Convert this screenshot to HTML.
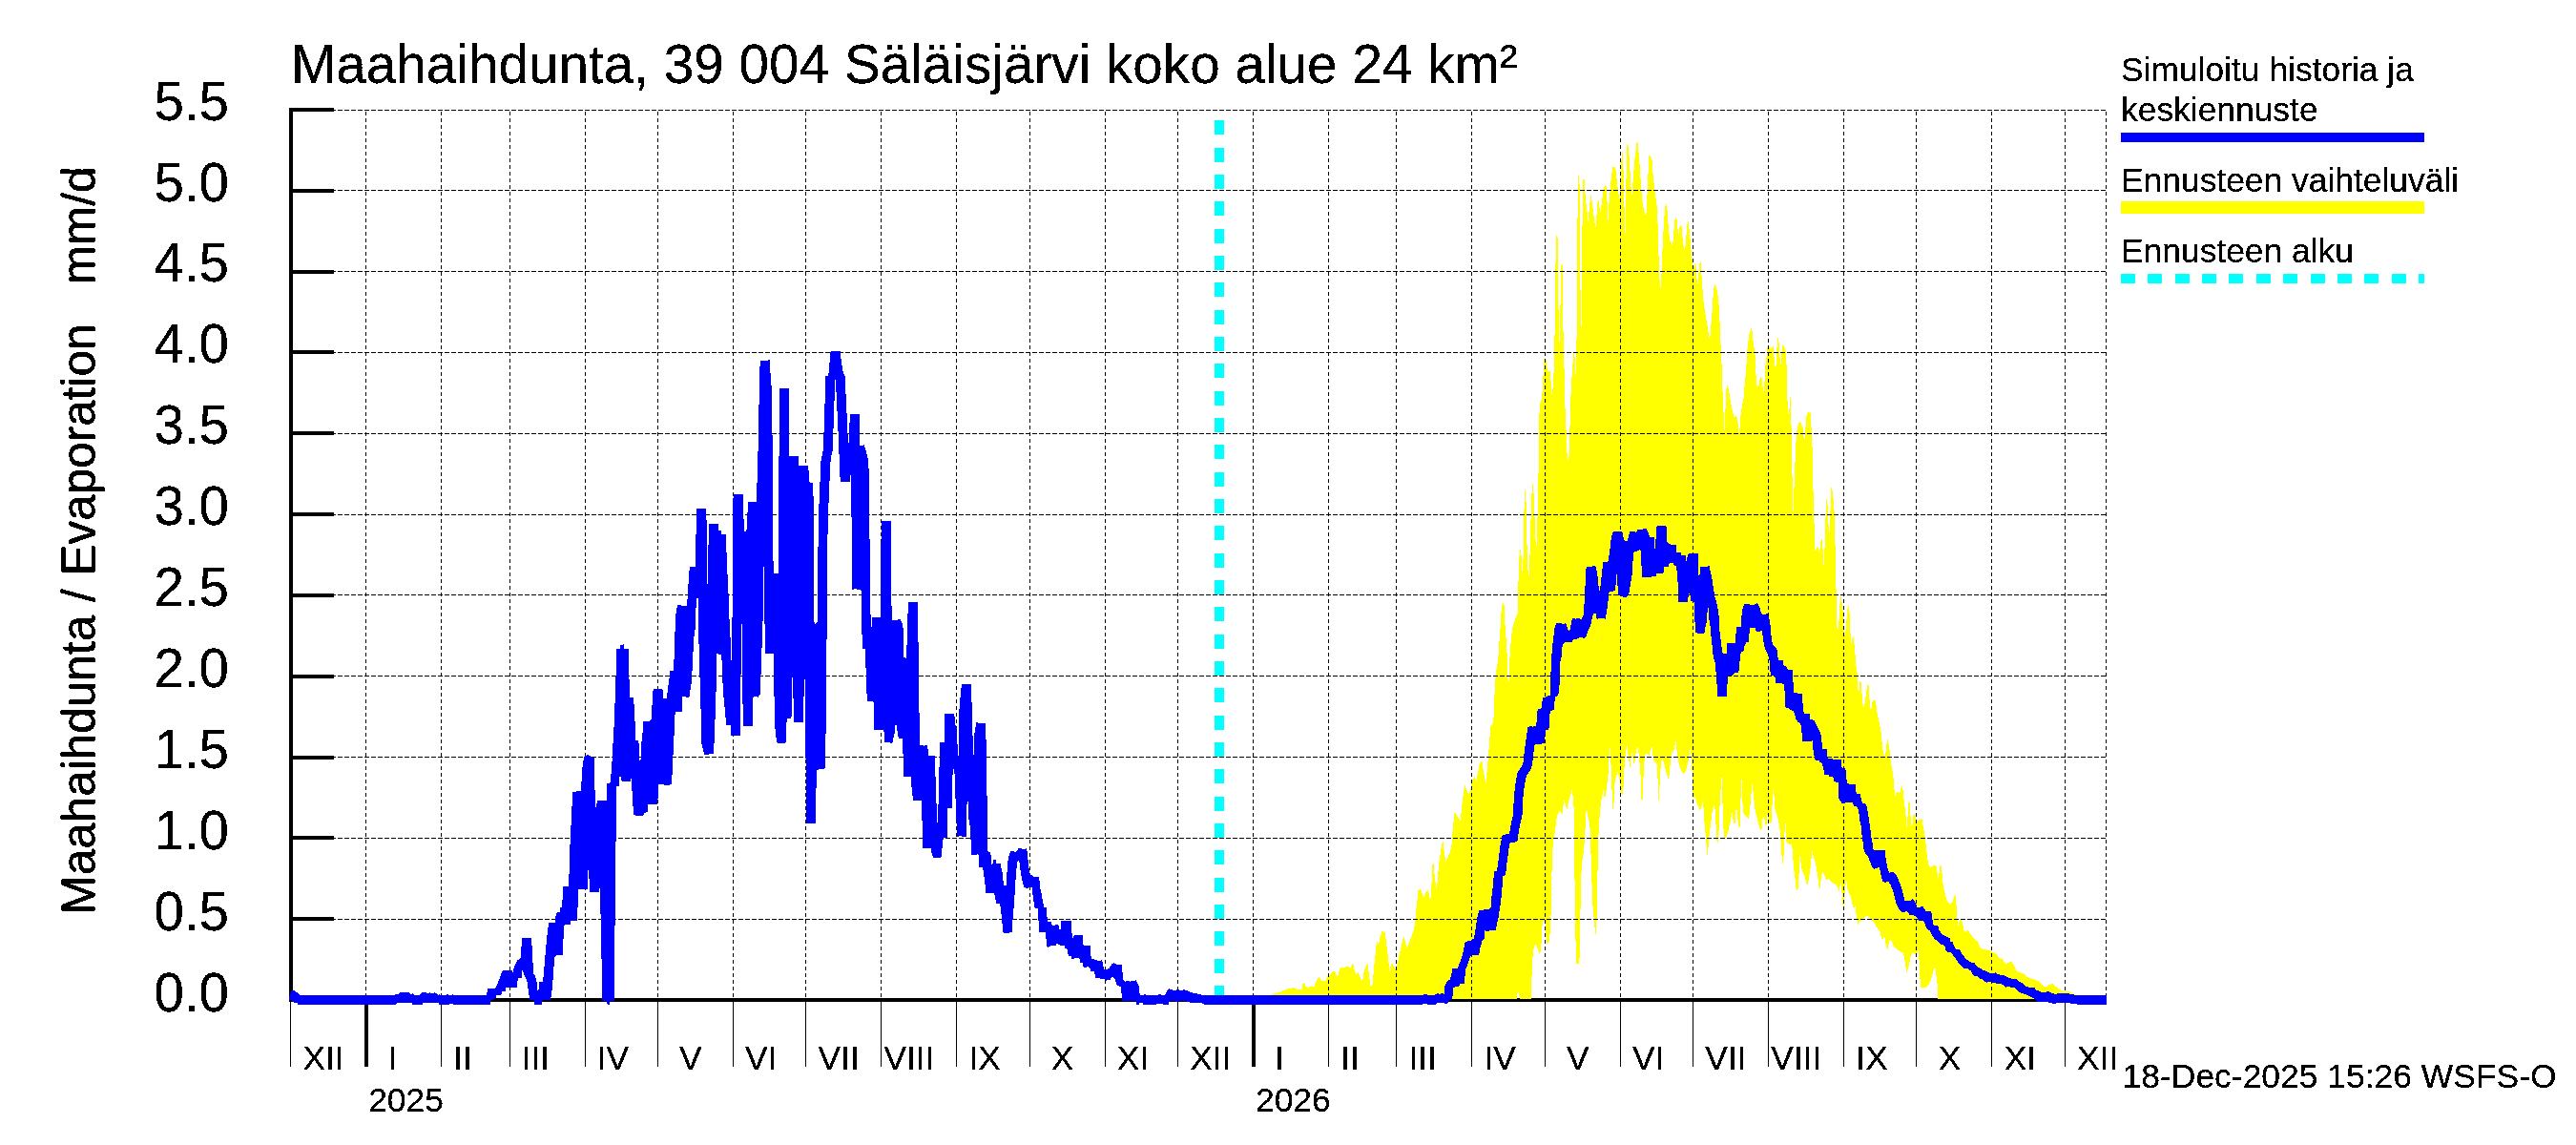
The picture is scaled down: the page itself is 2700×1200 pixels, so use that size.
<!DOCTYPE html>
<html><head><meta charset="utf-8"><title>Maahaihdunta</title>
<style>
html,body{margin:0;padding:0;background:#fff;}
svg{display:block;font-family:"Liberation Sans",sans-serif;}
</style></head><body>
<svg width="2700" height="1200" viewBox="0 0 2700 1200">
<rect width="2700" height="1200" fill="#fff"/>

<g shape-rendering="crispEdges" fill="#000">
<rect x="303" y="113" width="4" height="937"/>
<rect x="303" y="1046" width="1905" height="4"/>
<rect x="303" y="961" width="47" height="4"/>
<rect x="303" y="876" width="47" height="4"/>
<rect x="303" y="792" width="47" height="4"/>
<rect x="303" y="707" width="47" height="4"/>
<rect x="303" y="622" width="47" height="4"/>
<rect x="303" y="537" width="47" height="4"/>
<rect x="303" y="452" width="47" height="4"/>
<rect x="303" y="367" width="47" height="4"/>
<rect x="303" y="283" width="47" height="4"/>
<rect x="303" y="198" width="47" height="4"/>
<rect x="303" y="113" width="47" height="4"/>
<rect x="304" y="1048" width="1" height="70"/>
<rect x="382" y="1048" width="4" height="70"/>
<rect x="462" y="1048" width="1" height="70"/>
<rect x="534" y="1048" width="1" height="70"/>
<rect x="613" y="1048" width="1" height="70"/>
<rect x="689" y="1048" width="1" height="70"/>
<rect x="768" y="1048" width="1" height="70"/>
<rect x="844" y="1048" width="1" height="70"/>
<rect x="923" y="1048" width="1" height="70"/>
<rect x="1002" y="1048" width="1" height="70"/>
<rect x="1079" y="1048" width="1" height="70"/>
<rect x="1158" y="1048" width="1" height="70"/>
<rect x="1234" y="1048" width="1" height="70"/>
<rect x="1312" y="1048" width="4" height="70"/>
<rect x="1392" y="1048" width="1" height="70"/>
<rect x="1463" y="1048" width="1" height="70"/>
<rect x="1542" y="1048" width="1" height="70"/>
<rect x="1619" y="1048" width="1" height="70"/>
<rect x="1698" y="1048" width="1" height="70"/>
<rect x="1774" y="1048" width="1" height="70"/>
<rect x="1853" y="1048" width="1" height="70"/>
<rect x="1932" y="1048" width="1" height="70"/>
<rect x="2008" y="1048" width="1" height="70"/>
<rect x="2087" y="1048" width="1" height="70"/>
<rect x="2164" y="1048" width="1" height="70"/>
</g>
<g shape-rendering="crispEdges"><path d="M1331.9,1046.9 1331.9,1042.5 1340.7,1039.9 1347.6,1037.3 1350.3,1036.1 1356.4,1035.2 1359.9,1036.8 1364.8,1036.8 1365.5,1031.2 1366.9,1029.8 1368.6,1033.8 1371.2,1035.5 1373.8,1033.3 1377.3,1034.3 1380.0,1027.7 1382.2,1023.3 1385.2,1028.0 1389.6,1028.0 1391.3,1023.3 1394.8,1020.7 1396.9,1018.1 1399.7,1018.6 1401.8,1024.2 1404.4,1015.5 1405.6,1014.1 1410.5,1013.4 1413.1,1012.3 1414.9,1015.1 1417.2,1010.6 1418.4,1010.2 1419.6,1016.3 1421.4,1021.0 1423.6,1019.3 1426.2,1025.1 1428.0,1029.1 1429.7,1018.1 1431.8,1012.3 1433.6,1010.2 1435.0,1022.4 1436.7,1033.8 1438.5,1032.1 1440.2,1013.7 1441.6,999.7 1443.0,986.1 1444.8,990.1 1446.5,982.3 1448.3,976.2 1451.7,977.0 1453.3,990.1 1455.1,1005.0 1456.5,1018.1 1458.2,1009.3 1460.3,1011.1 1462.9,1016.3 1464.7,1010.2 1466.4,1001.5 1468.5,992.8 1470.3,984.9 1471.7,981.0 1473.4,989.3 1474.6,993.6 1476.9,987.5 1479.5,981.4 1481.3,976.2 1483.0,968.3 1484.2,954.3 1485.6,942.1 1486.5,933.4 1489.1,931.3 1490.9,936.9 1492.1,940.7 1494.4,935.1 1496.6,932.5 1497.9,937.7 1499.3,944.7 1500.5,926.4 1501.4,905.8 1502.8,905.1 1503.6,917.6 1505.4,930.7 1506.6,924.6 1508.0,907.2 1509.7,894.9 1511.0,886.2 1512.4,881.0 1513.6,891.4 1515.3,903.7 1517.1,898.4 1519.7,893.2 1521.4,886.2 1522.3,874.0 1523.2,863.5 1524.7,850.4 1527.3,855.6 1530.8,860.0 1532.2,845.2 1533.4,834.7 1535.2,822.4 1536.9,827.7 1539.2,832.9 1541.3,828.6 1543.1,817.2 1545.7,814.1 1547.4,818.1 1549.2,808.5 1550.9,799.7 1553.2,797.1 1554.4,805.0 1556.2,815.5 1557.6,820.3 1558.4,810.2 1559.7,796.2 1560.5,784.9 1561.4,773.5 1562.3,761.3 1564.0,759.2 1565.4,755.2 1566.1,735.1 1567.5,710.7 1568.4,701.9 1570.1,693.2 1571.4,673.1 1572.0,668.6 1573.2,644.2 1574.6,633.7 1575.8,631.6 1576.7,634.6 1577.2,649.4 1578.1,665.2 1579.0,672.1 1579.7,687.9 1580.6,713.3 1581.5,714.1 1582.4,690.6 1583.6,673.1 1585.1,658.2 1586.8,652.9 1588.6,647.7 1590.7,642.4 1591.2,619.7 1591.9,595.3 1592.9,575.2 1593.8,576.1 1594.7,583.1 1595.5,598.8 1596.4,593.5 1597.1,549.9 1598.0,514.9 1598.9,514.1 1599.4,520.2 1600.3,562.1 1601.1,593.5 1602.4,604.9 1603.2,593.5 1604.1,558.6 1605.2,523.7 1606.0,506.2 1606.9,507.1 1607.8,521.9 1608.6,542.9 1609.5,565.6 1610.4,573.4 1611.3,560.3 1612.0,496.6 1612.4,495.8 1613.1,495.1 1613.3,432.9 1614.0,432.2 1614.5,421.7 1615.2,421.1 1615.6,419.0 1616.1,411.3 1616.8,410.6 1617.2,393.8 1617.9,393.1 1618.4,376.3 1620.0,376.1 1620.5,378.4 1621.0,384.7 1621.9,385.4 1622.1,389.6 1623.3,388.9 1624.7,389.2 1625.2,398.7 1625.8,399.4 1626.1,412.7 1626.9,412.7 1627.2,407.1 1627.7,406.4 1628.1,391.0 1628.8,390.3 1629.1,351.9 1629.8,351.2 1629.8,351.6 1630.2,298.1 1630.9,247.9 1631.7,246.8 1632.8,250.1 1633.3,304.7 1633.9,358.2 1635.0,358.8 1635.5,320.0 1636.3,278.5 1637.6,276.9 1638.3,330.9 1639.0,385.4 1639.7,386.1 1640.0,427.3 1640.9,428.0 1641.1,450.7 1642.0,451.4 1642.3,474.9 1643.1,475.6 1643.2,481.8 1643.9,481.8 1644.2,478.6 1644.8,478.3 1645.1,445.9 1645.9,445.5 1646.2,414.1 1646.9,413.6 1647.2,394.9 1648.0,394.5 1648.3,380.9 1649.0,380.5 1649.3,370.0 1650.1,370.0 1650.2,373.8 1650.9,374.2 1651.1,392.0 1651.8,392.0 1651.9,356.1 1652.5,357.1 1653.1,264.3 1654.0,183.5 1654.9,184.6 1655.5,193.3 1656.2,271.9 1656.9,341.8 1657.7,341.8 1658.2,265.4 1659.0,188.5 1660.8,187.9 1661.4,202.1 1662.5,213.0 1663.6,222.8 1664.5,230.9 1665.6,221.7 1666.7,209.7 1667.6,204.9 1668.6,210.8 1669.7,219.5 1670.8,228.3 1672.4,238.5 1673.4,226.1 1674.3,214.1 1675.4,209.7 1676.5,217.3 1677.6,222.8 1678.7,214.1 1680.0,202.1 1681.1,196.6 1682.4,194.0 1683.9,195.5 1684.6,213.0 1685.5,230.9 1686.3,215.2 1687.4,202.1 1688.5,189.0 1689.4,181.3 1690.5,175.2 1693.1,175.2 1694.0,181.3 1695.1,193.3 1696.2,199.9 1697.2,210.8 1698.1,202.1 1699.0,180.2 1699.9,159.5 1700.7,159.0 1701.4,173.7 1702.1,199.9 1702.7,223.9 1703.4,247.9 1704.0,223.9 1704.7,173.7 1705.3,151.2 1706.4,151.8 1707.5,162.8 1708.6,180.2 1709.5,195.5 1710.3,206.0 1711.2,195.5 1712.3,180.2 1713.4,167.1 1714.5,158.4 1715.4,149.7 1716.7,149.2 1717.6,160.6 1718.4,170.4 1719.5,186.8 1720.6,202.1 1721.7,213.0 1723.0,219.5 1724.1,223.9 1725.2,227.8 1726.1,213.0 1726.9,195.5 1727.6,180.2 1728.3,163.2 1729.8,162.8 1730.7,166.0 1731.5,168.2 1732.2,178.0 1733.1,187.9 1734.1,197.7 1735.2,206.4 1736.3,211.9 1737.0,223.9 1737.6,235.9 1738.3,267.6 1739.2,269.7 1739.6,300.3 1740.3,304.0 1741.1,298.1 1742.0,274.1 1742.9,252.3 1743.8,237.0 1744.8,221.7 1745.9,213.0 1747.0,214.1 1747.7,221.7 1748.6,234.8 1749.7,247.9 1751.0,254.5 1752.5,256.6 1753.6,252.3 1754.7,239.2 1755.8,227.2 1757.3,228.3 1758.2,237.0 1759.3,246.8 1760.3,238.1 1761.4,235.9 1762.5,237.0 1763.4,247.9 1764.7,258.8 1766.0,262.8 1767.1,252.3 1768.2,237.0 1769.3,230.9 1770.4,239.2 1771.5,250.1 1772.6,263.2 1773.7,274.1 1774.8,282.8 1775.9,276.3 1777.2,275.2 1778.0,285.0 1779.1,301.0 1780.2,289.4 1781.3,276.3 1782.6,274.1 1783.5,289.4 1784.6,304.7 1785.7,317.8 1787.4,328.7 1789.0,337.4 1790.3,346.2 1791.4,353.8 1792.4,353.8 1793.5,339.6 1794.6,326.5 1795.7,309.0 1797.0,296.6 1798.3,299.2 1799.7,304.7 1801.0,311.2 1802.1,328.7 1803.1,348.3 1804.1,379.7 1804.9,381.4 1805.5,410.3 1806.2,431.2 1806.9,433.0 1807.4,451.0 1807.9,450.4 1808.4,432.1 1809.1,409.4 1810.0,403.3 1811.0,404.5 1811.9,409.4 1813.3,416.4 1814.5,424.2 1815.8,430.3 1817.2,436.5 1818.6,437.3 1819.8,435.9 1820.8,437.3 1821.5,442.6 1822.2,453.1 1823.3,453.1 1824.1,438.2 1825.4,428.6 1826.4,422.5 1827.5,417.2 1828.3,407.6 1829.4,396.3 1830.3,384.9 1831.1,372.7 1832.0,357.9 1832.2,359.3 1833.7,348.3 1835.5,344.4 1837.0,348.3 1837.2,355.2 1838.1,361.4 1839.0,366.6 1839.9,375.3 1840.4,391.0 1841.3,403.3 1842.1,405.0 1843.4,404.1 1844.2,398.9 1845.1,395.1 1846.5,395.8 1847.2,402.4 1848.1,409.4 1849.0,410.3 1849.7,396.3 1850.3,384.9 1851.4,376.2 1852.1,364.8 1853.3,362.2 1854.7,363.1 1855.6,366.6 1856.8,364.8 1857.9,363.1 1858.9,363.6 1859.4,372.7 1860.3,383.2 1861.2,386.7 1862.1,376.2 1862.8,355.2 1863.4,353.8 1864.3,357.0 1865.2,364.0 1865.7,380.6 1866.6,381.1 1867.3,372.7 1868.2,361.9 1869.6,361.9 1870.4,364.0 1871.3,366.6 1872.2,370.1 1872.7,388.4 1873.4,419.9 1874.1,421.6 1874.6,435.1 1875.3,434.7 1875.9,416.4 1876.7,416.0 1877.2,445.7 1877.9,446.4 1878.5,498.5 1879.3,536.6 1880.0,536.0 1880.7,502.0 1881.8,477.5 1882.8,456.6 1883.9,448.7 1884.9,444.3 1886.0,441.7 1887.4,442.6 1888.8,445.2 1889.8,448.7 1890.5,456.6 1891.4,460.9 1892.3,451.3 1893.1,438.2 1894.0,433.8 1895.4,432.4 1896.6,431.7 1897.9,433.8 1898.4,446.1 1899.3,459.2 1900.1,493.2 1901.0,537.8 1901.4,538.7 1901.9,577.2 1903.1,576.3 1904.3,572.8 1905.7,574.5 1906.6,578.9 1907.5,575.4 1908.5,567.6 1909.6,564.9 1910.4,571.9 1911.0,587.6 1911.7,592.9 1912.4,580.7 1913.1,547.5 1913.9,537.0 1913.9,535.2 1914.3,522.9 1915.0,524.7 1915.9,531.7 1916.6,552.7 1917.4,559.7 1918.1,547.5 1918.6,532.6 1918.6,531.7 1919.0,511.6 1919.9,511.0 1920.7,515.1 1921.6,523.8 1922.5,535.2 1922.5,535.2 1922.8,564.9 1923.5,571.0 1924.1,616.5 1924.9,617.3 1925.5,657.5 1926.7,658.9 1927.4,652.3 1928.1,638.3 1929.1,625.2 1930.2,624.3 1930.9,638.3 1931.9,641.8 1932.8,664.5 1934.0,666.2 1935.1,655.8 1935.9,643.5 1936.8,635.7 1937.9,634.8 1938.6,643.5 1939.3,659.3 1940.0,675.0 1941.0,673.2 1941.9,666.2 1942.9,668.0 1943.8,678.5 1944.8,689.0 1945.9,702.9 1946.5,705.2 1947.2,722.7 1948.6,723.6 1949.3,714.0 1950.3,712.2 1951.0,721.0 1951.9,732.3 1952.9,741.9 1954.1,741.0 1955.0,733.2 1955.9,727.9 1957.1,717.8 1958.5,717.8 1959.0,731.4 1959.9,734.9 1960.4,743.7 1961.5,741.9 1962.4,735.8 1963.8,734.1 1965.5,734.1 1966.4,738.4 1967.2,745.4 1968.5,752.4 1969.9,757.6 1970.7,762.0 1971.6,767.2 1972.5,776.9 1973.4,785.6 1974.2,787.3 1975.1,796.1 1976.0,794.3 1976.9,783.8 1978.1,775.1 1979.1,776.0 1980.0,783.8 1980.9,787.3 1981.7,797.8 1983.0,804.8 1983.8,810.0 1984.7,816.2 1985.6,828.4 1986.5,834.5 1987.9,830.1 1989.1,829.3 1990.3,831.0 1991.7,829.3 1992.9,824.0 1993.8,823.1 1994.7,829.3 1995.5,838.0 1996.4,845.0 1997.3,852.0 1998.2,865.9 1999.0,866.8 1999.6,853.7 2000.4,841.5 2001.3,838.0 2002.2,850.2 2003.1,865.1 2004.3,865.9 2005.2,855.5 2006.2,852.0 2007.2,853.7 2008.3,860.7 2009.7,861.6 2011.4,859.3 2013.5,858.1 2014.9,859.0 2015.6,865.9 2016.7,870.3 2017.6,876.4 2018.4,882.5 2019.1,891.4 2020.3,900.2 2021.7,907.2 2023.4,908.6 2026.1,907.5 2028.7,906.8 2029.9,908.0 2031.0,919.4 2031.8,920.3 2033.1,910.7 2033.9,906.3 2034.8,906.8 2035.7,917.6 2036.6,927.2 2037.9,933.4 2039.2,938.6 2040.9,943.8 2042.7,946.5 2044.4,947.7 2046.2,945.6 2047.9,941.2 2049.3,936.3 2050.2,942.1 2050.9,954.3 2051.7,964.8 2052.6,970.9 2053.7,964.8 2054.9,963.6 2056.1,964.5 2057.2,968.3 2058.0,972.7 2059.3,977.4 2060.7,975.6 2062.2,974.4 2063.6,976.2 2065.4,978.8 2067.1,981.4 2068.9,983.1 2070.6,985.4 2072.4,986.1 2073.6,988.4 2075.0,991.9 2076.4,994.1 2078.5,994.8 2081.1,994.8 2083.7,995.9 2086.3,996.6 2089.0,998.0 2091.6,998.9 2093.3,1001.1 2095.1,1004.1 2096.8,1005.0 2098.0,1004.1 2099.4,1005.9 2101.2,1008.5 2102.9,1010.2 2104.7,1009.3 2106.4,1008.1 2108.2,1008.1 2109.9,1010.2 2111.7,1013.4 2113.1,1016.3 2114.8,1018.6 2116.9,1019.3 2119.5,1019.8 2122.1,1021.0 2124.2,1023.3 2126.5,1025.1 2129.1,1025.6 2131.7,1026.3 2134.4,1027.3 2137.0,1028.6 2139.6,1031.2 2142.2,1033.8 2144.0,1034.7 2146.6,1032.9 2149.2,1031.5 2151.5,1031.2 2153.6,1032.9 2156.2,1034.7 2158.8,1036.8 2162.3,1038.5 2165.8,1039.0 2169.3,1039.0 2171.9,1040.8 2174.5,1042.0 2178.0,1043.1 2179.8,1046.9 2178.1,1047.0 2031.5,1047.0 2031.3,1046.9 2031.0,1034.7 2030.1,1027.7 2029.2,1020.7 2028.3,1013.7 2026.9,1015.5 2025.2,1022.4 2023.4,1028.6 2021.7,1032.1 2020.0,1033.8 2017.3,1035.2 2014.7,1035.5 2013.3,1034.7 2012.4,1024.2 2011.7,1008.5 2010.7,997.1 2009.5,998.0 2008.3,1001.5 2006.9,999.7 2005.1,998.9 2003.7,999.7 2002.5,1003.2 2001.3,1009.3 1999.9,1015.5 1998.5,1018.6 1997.6,1014.6 1996.4,1006.7 1995.0,999.7 1992.9,998.0 1990.3,996.2 1987.6,994.1 1985.0,992.4 1983.3,987.5 1981.9,984.0 1980.7,985.8 1979.4,990.1 1978.4,995.4 1977.2,992.8 1975.9,985.8 1975.1,980.5 1974.0,983.1 1972.8,984.9 1971.9,982.3 1970.5,976.2 1968.4,973.5 1965.8,970.0 1964.1,966.6 1961.4,963.9 1958.8,961.3 1957.1,959.6 1954.5,961.3 1951.8,963.9 1949.2,965.7 1947.2,969.7 1946.0,961.8 1944.6,949.6 1942.8,951.3 1941.4,947.8 1940.2,940.8 1938.5,937.3 1936.7,933.8 1935.5,923.4 1934.5,926.9 1933.2,940.8 1932.4,953.1 1931.5,947.8 1930.6,937.3 1929.7,925.1 1928.9,926.9 1927.6,933.8 1926.2,930.3 1924.5,926.9 1921.9,926.0 1919.3,923.4 1916.6,921.3 1914.5,922.5 1913.1,919.9 1911.4,915.5 1910.0,913.8 1908.8,919.9 1907.9,930.7 1906.7,930.7 1905.8,923.4 1904.4,912.9 1902.7,904.1 1900.9,897.2 1899.5,891.9 1898.6,898.9 1897.4,911.1 1896.0,919.9 1894.8,927.7 1893.6,926.0 1892.2,920.7 1890.4,915.5 1888.7,912.0 1887.3,902.4 1886.4,896.3 1885.5,916.4 1884.7,932.1 1883.4,933.0 1882.6,930.3 1881.4,919.9 1880.0,909.4 1879.1,895.4 1878.2,884.9 1874.7,884.4 1872.6,883.2 1871.7,865.7 1871.2,857.0 1870.3,876.2 1869.5,897.2 1868.6,905.9 1867.7,900.7 1866.9,884.9 1865.6,871.0 1864.2,860.5 1862.5,855.2 1860.7,850.0 1859.2,830.0 1858.6,827.3 1858.2,830.0 1857.2,850.0 1856.7,862.2 1855.2,863.1 1853.8,860.5 1852.5,853.5 1851.5,864.0 1850.3,864.8 1848.9,855.2 1847.6,857.0 1846.4,870.6 1845.0,870.1 1843.3,864.0 1841.5,857.0 1839.8,850.0 1837.5,830.0 1836.8,821.6 1836.3,823.0 1834.0,850.0 1833.1,857.9 1831.0,857.0 1828.4,853.5 1826.7,850.0 1826.0,820.0 1825.4,816.3 1825.0,820.0 1824.1,850.0 1823.5,866.6 1822.3,866.6 1821.6,860.5 1820.9,850.0 1820.0,848.6 1818.8,850.0 1818.5,863.1 1817.1,863.6 1816.2,857.0 1815.3,850.0 1814.5,857.0 1812.7,865.7 1811.0,872.7 1809.2,877.9 1807.5,878.8 1806.6,871.0 1805.7,850.0 1805.0,820.0 1804.5,814.6 1804.0,820.0 1802.2,850.0 1801.7,867.5 1800.8,883.2 1799.6,882.3 1798.7,867.5 1797.9,850.0 1796.3,843.4 1794.7,850.0 1793.5,860.5 1792.1,871.0 1790.9,881.4 1790.0,897.2 1789.1,895.4 1788.3,881.4 1787.0,867.5 1786.1,857.0 1786.1,855.2 1786.1,852.1 1784.7,840.8 1783.5,845.2 1781.7,849.5 1780.0,845.2 1778.3,839.9 1776.5,836.4 1774.4,836.4 1773.9,817.2 1773.0,792.8 1771.6,784.0 1770.4,792.8 1768.6,801.5 1766.9,808.5 1764.3,811.6 1761.7,806.7 1759.6,799.7 1757.8,789.3 1756.4,776.2 1754.7,784.9 1753.4,789.3 1752.1,785.8 1750.8,799.7 1749.1,817.2 1747.7,813.7 1745.9,808.5 1744.2,799.7 1742.4,795.4 1741.0,798.0 1739.8,817.2 1738.6,840.8 1737.6,817.2 1736.3,798.0 1734.6,799.7 1732.8,794.5 1731.4,781.4 1730.2,785.8 1728.5,791.9 1726.7,790.1 1724.6,790.1 1723.2,799.7 1722.0,825.9 1721.1,848.6 1720.3,834.7 1719.4,808.5 1718.0,792.8 1716.6,782.3 1715.4,785.8 1714.0,792.8 1712.8,802.4 1711.4,792.8 1710.1,786.6 1708.7,805.0 1707.5,798.0 1706.3,789.3 1705.4,779.7 1704.0,789.3 1702.6,803.2 1701.4,827.7 1700.0,835.5 1698.8,825.9 1697.0,813.7 1695.6,808.5 1694.4,812.0 1692.7,817.2 1691.8,834.7 1690.9,853.9 1690.0,839.9 1689.2,820.7 1688.3,794.5 1687.4,782.3 1686.6,792.8 1685.7,810.2 1684.3,822.4 1683.1,832.9 1681.8,838.2 1680.8,826.8 1679.6,832.9 1678.2,839.9 1676.9,852.1 1676.5,857.0 1675.6,872.7 1675.1,881.4 1674.4,919.9 1673.8,961.8 1673.1,968.8 1672.4,980.7 1671.7,974.0 1670.7,963.5 1669.5,949.6 1668.1,916.4 1667.2,883.2 1666.5,867.5 1665.1,858.7 1664.2,855.2 1663.8,849.5 1662.6,849.5 1662.0,857.0 1661.6,867.5 1660.7,883.2 1659.5,895.4 1658.1,904.1 1656.9,925.1 1656.4,961.8 1655.5,1003.7 1654.6,1009.8 1652.4,1009.8 1651.5,986.2 1651.1,937.3 1650.3,916.4 1649.9,857.0 1649.9,850.4 1648.6,834.7 1647.6,828.0 1646.4,832.1 1645.0,836.4 1643.8,841.7 1642.4,848.6 1641.1,845.2 1639.7,838.2 1638.5,845.2 1637.6,853.0 1635.9,852.1 1634.5,849.5 1633.3,852.1 1631.9,855.2 1631.0,862.2 1629.8,871.0 1628.4,879.7 1627.6,885.8 1627.0,900.7 1626.3,919.9 1625.8,937.3 1625.5,960.0 1624.9,972.3 1624.1,987.1 1621.4,988.9 1620.6,982.8 1619.7,964.4 1617.1,965.3 1616.2,972.3 1615.7,986.2 1615.0,995.0 1614.1,999.9 1612.4,996.7 1610.6,991.5 1608.9,988.9 1607.1,996.7 1606.1,1007.2 1605.4,1026.4 1604.8,1046.5 1604.8,1047.0 1593.1,1046.9 1591.8,1039.9 1590.8,1039.0 1589.9,1046.0 1589.5,1047.0 1331.9,1047.0Z" fill="#ffff00"/></g>
<g shape-rendering="crispEdges" stroke="#000" stroke-width="1" fill="none">
<line x1="305" x2="2207" y1="963.5" y2="963.5" stroke-dasharray="5 2"/>
<line x1="305" x2="2207" y1="878.5" y2="878.5" stroke-dasharray="5 2"/>
<line x1="305" x2="2207" y1="793.5" y2="793.5" stroke-dasharray="5 2"/>
<line x1="305" x2="2207" y1="708.5" y2="708.5" stroke-dasharray="5 2"/>
<line x1="305" x2="2207" y1="623.5" y2="623.5" stroke-dasharray="5 2"/>
<line x1="305" x2="2207" y1="539.5" y2="539.5" stroke-dasharray="5 2"/>
<line x1="305" x2="2207" y1="454.5" y2="454.5" stroke-dasharray="5 2"/>
<line x1="305" x2="2207" y1="369.5" y2="369.5" stroke-dasharray="5 2"/>
<line x1="305" x2="2207" y1="284.5" y2="284.5" stroke-dasharray="5 2"/>
<line x1="305" x2="2207" y1="199.5" y2="199.5" stroke-dasharray="5 2"/>
<line x1="305" x2="2207" y1="115.5" y2="115.5" stroke-dasharray="5 2"/>
<line x1="383.5" x2="383.5" y1="1048" y2="115" stroke-dasharray="4 3" stroke-dashoffset="4"/>
<line x1="462.5" x2="462.5" y1="1048" y2="115" stroke-dasharray="4 3" stroke-dashoffset="4"/>
<line x1="534.5" x2="534.5" y1="1048" y2="115" stroke-dasharray="4 3" stroke-dashoffset="4"/>
<line x1="613.5" x2="613.5" y1="1048" y2="115" stroke-dasharray="4 3" stroke-dashoffset="4"/>
<line x1="689.5" x2="689.5" y1="1048" y2="115" stroke-dasharray="4 3" stroke-dashoffset="4"/>
<line x1="768.5" x2="768.5" y1="1048" y2="115" stroke-dasharray="4 3" stroke-dashoffset="4"/>
<line x1="844.5" x2="844.5" y1="1048" y2="115" stroke-dasharray="4 3" stroke-dashoffset="4"/>
<line x1="923.5" x2="923.5" y1="1048" y2="115" stroke-dasharray="4 3" stroke-dashoffset="4"/>
<line x1="1002.5" x2="1002.5" y1="1048" y2="115" stroke-dasharray="4 3" stroke-dashoffset="4"/>
<line x1="1079.5" x2="1079.5" y1="1048" y2="115" stroke-dasharray="4 3" stroke-dashoffset="4"/>
<line x1="1158.5" x2="1158.5" y1="1048" y2="115" stroke-dasharray="4 3" stroke-dashoffset="4"/>
<line x1="1234.5" x2="1234.5" y1="1048" y2="115" stroke-dasharray="4 3" stroke-dashoffset="4"/>
<line x1="1313.5" x2="1313.5" y1="1048" y2="115" stroke-dasharray="4 3" stroke-dashoffset="4"/>
<line x1="1392.5" x2="1392.5" y1="1048" y2="115" stroke-dasharray="4 3" stroke-dashoffset="4"/>
<line x1="1463.5" x2="1463.5" y1="1048" y2="115" stroke-dasharray="4 3" stroke-dashoffset="4"/>
<line x1="1542.5" x2="1542.5" y1="1048" y2="115" stroke-dasharray="4 3" stroke-dashoffset="4"/>
<line x1="1619.5" x2="1619.5" y1="1048" y2="115" stroke-dasharray="4 3" stroke-dashoffset="4"/>
<line x1="1698.5" x2="1698.5" y1="1048" y2="115" stroke-dasharray="4 3" stroke-dashoffset="4"/>
<line x1="1774.5" x2="1774.5" y1="1048" y2="115" stroke-dasharray="4 3" stroke-dashoffset="4"/>
<line x1="1853.5" x2="1853.5" y1="1048" y2="115" stroke-dasharray="4 3" stroke-dashoffset="4"/>
<line x1="1932.5" x2="1932.5" y1="1048" y2="115" stroke-dasharray="4 3" stroke-dashoffset="4"/>
<line x1="2008.5" x2="2008.5" y1="1048" y2="115" stroke-dasharray="4 3" stroke-dashoffset="4"/>
<line x1="2087.5" x2="2087.5" y1="1048" y2="115" stroke-dasharray="4 3" stroke-dashoffset="4"/>
<line x1="2164.5" x2="2164.5" y1="1048" y2="115" stroke-dasharray="4 3" stroke-dashoffset="4"/>
<line x1="2207.5" x2="2207.5" y1="1048" y2="115" stroke-dasharray="4 3" stroke-dashoffset="4"/>
</g>
<g shape-rendering="crispEdges">
<line x1="1278" x2="1278" y1="1048" y2="115" stroke="#00ffff" stroke-width="10" stroke-dasharray="15 13.33"/>
<path d="M303.1,1045.3 304.9,1039.7 307.0,1037.6 309.8,1039.0 312.6,1041.1 314.7,1043.2 413.2,1043.2 413.9,1042.3 417.4,1041.8 420.9,1039.5 427.9,1039.5 430.0,1041.8 432.8,1041.4 434.9,1043.2 439.7,1042.8 442.5,1039.7 446.0,1039.5 447.4,1041.1 450.9,1040.4 453.0,1041.4 455.1,1040.2 457.2,1040.9 459.3,1043.2 460.7,1042.3 462.8,1043.2 469.1,1042.3 471.2,1043.2 474.7,1042.3 476.8,1043.2 499.1,1043.2 500.0,1043.1 510.1,1043.1 511.0,1035.5 519.2,1035.5 521.8,1030.3 526.2,1018.1 527.9,1017.2 536.7,1017.2 537.6,1019.0 539.3,1012.0 542.8,1005.9 545.4,1005.0 546.8,989.3 547.2,983.1 557.1,983.1 557.6,992.8 558.5,1008.5 559.4,1020.7 561.1,1023.3 562.5,1029.4 563.2,1038.2 564.3,1038.2 565.5,1029.1 569.0,1029.1 570.2,1017.2 571.6,999.7 573.4,980.5 575.1,967.1 582.1,967.1 582.4,960.4 583.8,956.1 586.5,955.7 586.8,951.7 589.1,950.8 590.3,929.0 596.1,929.0 597.3,889.7 598.7,861.7 599.3,847.8 600.5,830.3 608.9,828.6 610.7,801.5 612.4,792.8 615.9,791.0 622.5,794.1 623.2,809.3 623.9,850.4 625.0,843.4 626.4,839.0 636.0,839.0 636.3,821.0 639.5,820.3 641.2,805.0 642.4,780.5 643.8,757.8 644.7,731.6 645.6,705.4 646.1,680.1 650.0,680.1 650.3,676.1 653.8,675.4 654.0,680.1 658.9,680.1 659.6,715.9 660.3,730.7 663.9,731.1 664.8,741.2 665.7,759.6 666.2,775.6 669.2,776.2 670.0,784.0 670.6,798.9 671.4,798.9 672.1,780.5 673.5,768.3 674.1,756.1 680.5,755.7 682.8,753.4 683.5,739.5 684.0,724.6 685.4,722.0 693.6,722.0 694.8,723.8 695.4,731.6 698.9,731.6 699.7,723.8 701.5,710.7 702.4,703.1 705.9,702.8 706.7,687.9 707.6,660.0 707.6,650.4 708.5,643.4 710.0,634.3 713.2,634.0 714.9,635.0 719.8,635.0 720.5,627.7 721.4,613.7 722.4,598.9 723.3,594.1 728.9,594.1 729.4,564.8 730.1,533.0 739.9,533.0 740.3,545.2 741.0,545.6 741.5,612.0 742.0,599.7 742.9,549.1 752.8,549.1 753.4,555.7 756.0,556.1 756.3,559.9 760.9,560.1 761.4,576.7 762.4,599.4 763.5,622.4 764.4,646.9 765.1,660.0 765.8,673.1 766.1,692.3 766.8,692.3 767.2,660.0 767.3,660.0 767.7,634.7 768.2,536.9 768.6,518.0 778.7,518.0 779.2,536.9 780.1,556.9 782.2,557.8 783.1,550.0 783.9,526.0 792.7,526.0 793.2,515.0 794.1,487.1 794.9,460.0 795.0,486.7 795.3,436.9 796.1,388.5 797.0,378.0 804.8,378.0 805.5,377.1 806.8,377.1 807.1,390.8 807.9,391.1 808.1,404.2 809.0,404.5 809.2,455.9 809.8,456.6 810.1,490.0 810.1,561.3 810.7,600.6 815.9,600.6 816.2,488.8 817.1,460.0 817.1,488.7 817.1,407.1 826.9,407.1 827.1,478.0 836.9,478.0 837.2,488.0 846.8,488.0 847.2,490.0 847.2,487.9 847.7,495.8 848.6,505.8 852.1,506.3 852.6,522.9 852.9,582.3 853.3,652.1 854.7,653.9 856.8,652.1 857.3,584.9 858.2,535.1 859.4,508.0 860.3,484.5 861.7,476.6 862.9,471.4 863.1,453.3 864.1,452.7 864.2,423.2 865.1,422.5 865.4,394.1 868.0,394.0 868.4,391.4 869.0,391.1 869.3,380.0 870.1,379.3 870.4,369.1 871.0,368.2 880.8,368.2 881.2,376.0 881.8,376.7 882.1,382.6 882.8,383.2 883.2,388.2 884.1,389.8 885.0,393.7 885.8,394.4 886.1,413.1 886.7,413.4 887.0,433.0 887.8,433.3 888.0,454.0 888.7,454.2 889.1,463.8 890.0,463.8 890.3,443.5 891.1,442.8 891.3,434.1 900.9,434.1 901.1,466.8 904.4,466.8 904.7,466.0 905.7,466.0 906.1,469.0 907.0,469.7 907.4,472.3 908.1,472.6 908.6,476.3 909.3,476.9 909.7,483.2 910.1,483.5 910.1,490.0 910.6,491.4 911.1,531.6 912.0,605.0 912.7,657.4 914.1,657.4 914.4,647.2 922.8,647.2 923.1,584.9 924.0,545.9 933.8,545.9 934.1,599.7 934.7,649.9 941.1,649.9 942.0,648.6 943.8,649.5 945.5,653.0 946.9,660.0 947.3,688.8 950.0,689.7 950.3,676.1 951.2,675.4 951.2,660.0 951.3,646.9 952.1,631.2 961.7,631.2 962.1,660.0 962.2,672.6 963.1,673.6 963.1,746.5 963.9,747.3 964.3,780.5 966.9,780.9 968.3,781.7 970.9,780.9 971.8,781.4 972.3,784.9 973.2,785.8 973.5,791.9 979.7,792.2 980.2,813.7 980.9,814.6 981.4,841.7 981.9,842.5 981.9,845.0 982.0,862.0 982.8,862.0 983.0,845.0 983.5,843.4 984.0,805.0 984.9,804.1 985.2,778.3 989.8,777.9 990.1,748.2 999.7,748.2 1000.3,750.8 1001.0,751.7 1001.5,760.4 1002.4,761.3 1002.9,764.8 1003.6,782.3 1004.1,791.9 1005.0,791.9 1005.3,745.6 1006.2,734.2 1007.2,722.9 1008.1,717.1 1018.1,717.1 1018.4,736.0 1019.0,736.9 1019.3,770.4 1020.2,771.8 1020.3,791.0 1021.0,790.1 1021.2,770.0 1022.4,763.1 1023.3,756.9 1024.7,757.3 1025.1,758.2 1032.9,758.2 1033.3,774.4 1033.8,775.3 1034.1,833.8 1035.0,834.7 1035.0,860.0 1035.0,860.0 1035.0,892.3 1037.8,893.2 1038.7,896.3 1039.2,905.8 1040.4,906.3 1041.0,901.4 1043.6,901.0 1044.3,905.1 1048.8,905.1 1049.5,909.8 1050.4,912.4 1051.3,921.1 1052.1,928.1 1054.8,928.1 1055.3,917.6 1056.2,903.7 1057.4,897.6 1058.8,892.7 1060.5,891.8 1063.1,892.3 1064.0,893.5 1065.8,891.4 1067.5,889.3 1070.1,889.2 1072.8,890.0 1076.2,889.3 1076.8,894.9 1078.0,905.4 1079.2,915.0 1080.6,916.8 1083.2,918.5 1088.5,918.5 1089.3,920.3 1090.2,929.9 1091.6,936.9 1093.4,946.5 1094.1,951.2 1096.7,951.2 1097.2,958.7 1098.1,965.7 1101.6,966.0 1102.4,969.2 1104.2,970.0 1107.7,969.2 1109.8,969.7 1110.3,974.4 1112.1,974.4 1112.4,965.2 1122.5,965.2 1123.1,973.5 1123.9,982.3 1125.2,983.1 1125.7,980.0 1129.5,980.5 1132.1,980.2 1134.8,980.5 1135.6,991.0 1142.6,991.0 1143.1,999.7 1144.0,1005.3 1146.1,1005.3 1148.7,1006.4 1152.2,1006.7 1154.8,1006.4 1156.1,1010.2 1156.9,1015.8 1160.4,1016.3 1162.7,1014.6 1165.3,1010.6 1167.1,1009.3 1169.7,1010.6 1175.8,1010.6 1176.3,1017.2 1177.6,1027.7 1179.3,1028.6 1181.9,1027.7 1184.5,1028.6 1188.0,1028.0 1190.7,1027.2 1192.4,1030.3 1193.6,1032.9 1194.7,1042.5 1198.5,1043.1 1200.3,1041.7 1201.1,1043.1 1212.5,1043.1 1214.2,1042.2 1216.9,1042.2 1217.7,1043.1 1221.2,1042.5 1223.0,1039.0 1225.6,1036.4 1228.2,1036.8 1230.0,1037.8 1235.2,1037.3 1236.9,1037.8 1241.3,1037.3 1243.9,1038.2 1249.2,1040.4 1254.4,1041.3 1257.0,1042.0 1261.4,1043.1 1278.0,1043.1 1278.0,1052.7 1262.3,1052.7 1257.9,1050.7 1247.4,1050.7 1243.9,1049.5 1236.9,1048.6 1233.4,1049.9 1230.0,1048.6 1225.6,1049.5 1224.7,1052.7 1219.5,1052.7 1218.6,1051.8 1212.5,1051.8 1211.6,1052.7 1198.5,1052.7 1197.6,1051.3 1194.1,1051.3 1193.6,1052.7 1191.5,1052.7 1190.7,1049.5 1183.7,1049.0 1176.2,1048.6 1174.9,1034.7 1173.2,1033.8 1170.6,1032.1 1168.8,1026.8 1167.1,1024.2 1164.8,1024.2 1163.6,1026.8 1159.2,1027.7 1157.5,1025.6 1154.0,1025.9 1152.2,1024.5 1148.2,1024.7 1147.0,1018.1 1143.5,1017.7 1142.6,1015.5 1140.9,1013.4 1135.6,1013.7 1134.8,1009.3 1132.1,1008.5 1131.3,1004.1 1126.6,1003.6 1125.5,1005.0 1123.4,1005.3 1122.5,1002.4 1119.9,1001.5 1118.5,994.5 1116.4,993.6 1115.5,991.0 1112.1,991.4 1110.3,989.6 1107.3,989.3 1106.8,991.0 1101.6,991.4 1097.7,992.8 1096.7,985.8 1095.5,977.0 1092.0,977.4 1089.3,976.7 1088.5,964.8 1087.6,952.1 1084.6,951.7 1083.6,945.6 1082.4,936.9 1081.5,929.9 1078.9,929.5 1078.0,930.7 1073.6,930.4 1072.2,925.5 1071.0,920.3 1069.6,912.4 1068.7,904.5 1067.5,901.9 1066.1,903.7 1064.9,915.9 1064.0,929.9 1063.1,945.1 1061.9,959.6 1061.0,970.0 1060.5,977.0 1056.2,977.9 1051.3,977.4 1050.4,966.6 1049.2,954.3 1047.9,946.8 1044.3,946.8 1043.4,942.1 1042.2,936.0 1033.4,935.5 1032.2,923.8 1030.8,914.1 1030.0,909.3 1026.5,908.9 1025.9,896.7 1024.7,894.9 1023.0,895.8 1018.3,895.8 1017.7,882.7 1016.9,873.1 1016.3,860.0 1016.2,860.0 1016.0,859.5 1015.1,859.0 1014.8,840.3 1014.0,840.3 1013.8,842.4 1013.1,842.9 1013.0,860.0 1013.0,860.0 1012.8,876.9 1009.0,876.9 1007.2,876.1 1002.9,876.9 1002.5,860.0 1002.2,860.0 1002.0,837.2 1001.1,836.8 1001.0,811.5 1000.4,811.0 1000.3,806.2 999.0,806.2 998.7,811.5 998.1,812.0 998.0,846.8 993.0,846.8 992.9,860.0 992.8,860.0 992.8,877.5 988.9,877.8 988.0,882.7 987.5,888.8 986.8,898.4 978.1,899.3 976.7,894.9 975.8,889.3 967.1,888.8 966.6,860.0 966.0,860.0 965.7,838.7 957.3,838.7 956.4,833.8 955.5,825.1 954.8,813.7 947.3,813.7 947.0,791.0 946.1,790.1 945.6,773.9 942.1,773.5 941.2,770.9 940.3,763.9 939.8,759.9 938.1,759.9 937.7,768.3 936.9,769.2 936.0,778.4 933.4,778.8 932.0,777.9 927.2,777.9 926.7,768.3 926.0,764.8 916.2,764.8 915.9,736.0 914.5,735.1 909.4,734.8 909.3,728.1 908.4,727.2 908.0,700.2 907.2,699.3 906.8,680.1 904.2,679.6 903.7,667.9 903.2,660.0 903.2,660.0 902.7,618.6 896.6,617.2 893.1,618.1 892.6,546.5 891.9,512.4 891.4,494.1 890.8,504.5 881.2,504.5 880.3,498.4 880.2,475.7 880.2,476.5 879.5,476.3 879.1,452.4 878.2,452.0 878.0,430.8 877.3,430.4 876.9,411.4 876.3,410.7 875.9,397.6 874.9,397.6 874.7,419.3 874.2,419.9 873.9,448.5 873.4,448.7 873.0,472.3 872.3,473.0 872.1,473.1 870.4,484.5 869.5,504.5 868.3,531.6 867.2,570.9 867.0,660.0 866.6,669.6 865.8,670.5 865.8,768.3 864.9,769.2 864.9,805.5 864.8,805.3 856.4,806.7 855.5,825.9 855.2,860.0 855.0,860.0 854.8,862.6 845.5,862.6 845.3,861.0 845.1,860.0 844.4,782.3 843.8,712.4 843.0,710.7 842.1,746.5 841.6,756.6 832.0,756.6 831.1,712.4 830.2,708.9 829.9,750.0 829.0,752.6 825.2,753.1 824.1,758.7 823.8,778.4 817.6,779.3 814.7,779.3 813.6,773.5 812.4,763.1 811.5,729.9 811.0,684.5 802.1,684.5 801.9,660.0 801.9,660.0 801.4,652.1 800.9,594.5 800.2,593.6 799.7,643.4 799.3,660.0 799.0,660.0 798.4,682.7 797.6,705.4 796.7,727.2 794.9,730.7 792.3,729.9 789.2,730.7 788.8,760.8 779.2,760.8 778.3,730.7 778.3,660.0 777.8,660.0 777.6,653.9 777.1,653.9 777.1,660.0 777.1,660.0 776.9,693.2 776.2,719.4 775.7,771.4 766.5,771.4 766.1,759.9 761.2,759.6 760.0,745.6 758.8,735.1 757.4,714.1 756.5,692.3 755.6,685.9 751.3,685.3 750.4,731.6 749.5,754.3 748.6,777.9 747.8,790.1 738.2,791.0 737.3,787.5 735.5,779.7 734.7,749.1 733.8,717.6 732.9,694.9 732.4,668.7 732.4,660.0 731.9,626.8 729.8,626.8 728.9,660.0 728.0,660.0 727.3,669.6 726.3,687.1 725.4,705.4 724.5,716.8 723.3,723.8 722.4,730.7 719.0,730.7 718.1,730.2 715.1,730.2 714.6,745.6 707.9,745.9 707.1,753.4 706.4,775.3 705.0,800.6 704.1,822.4 696.2,822.8 695.4,822.1 690.1,822.1 689.3,842.5 679.3,843.4 678.8,851.3 674.9,851.8 674.4,854.8 671.8,855.6 670.0,854.8 664.3,854.4 663.4,843.4 662.5,828.6 661.7,814.6 661.0,818.6 651.7,818.6 650.8,813.7 649.4,813.7 649.1,823.8 646.0,823.8 646.0,860.0 646.0,860.0 645.9,872.2 645.0,894.9 644.6,961.3 644.1,1017.2 643.6,1048.6 639.2,1048.6 638.9,1052.7 636.6,1052.7 636.2,1048.6 631.4,1048.6 630.7,1013.7 629.6,961.3 628.7,929.0 628.0,934.8 618.4,935.5 617.0,912.4 616.2,912.4 615.8,931.6 606.0,931.6 605.7,947.3 604.8,964.5 598.2,964.8 597.8,968.6 591.7,968.6 590.8,975.3 590.0,1000.6 583.8,1000.6 581.2,1003.2 580.3,1015.5 579.5,1027.7 578.1,1041.7 576.9,1047.8 568.5,1048.6 567.8,1052.7 560.3,1052.7 559.4,1048.6 555.0,1047.8 554.1,1039.9 552.4,1028.6 549.8,1022.4 547.5,1017.2 546.8,1025.1 542.8,1025.1 541.9,1034.7 530.6,1034.7 529.7,1038.5 526.2,1039.0 525.3,1042.5 520.1,1043.4 519.2,1047.2 514.3,1047.8 514.0,1052.7 500.0,1052.7 499.1,1052.7 475.4,1052.7 474.7,1051.6 471.9,1051.6 471.2,1052.7 460.0,1052.7 459.3,1050.6 443.9,1050.6 442.5,1052.7 432.1,1052.7 431.4,1050.9 416.0,1050.9 414.6,1052.7 312.3,1052.7 311.9,1050.6 308.4,1050.6 305.6,1048.1 303.1,1047.4Z" fill="#0000ff"/>
<path d="M1265.0,1043.1 1490.9,1043.1 1492.6,1041.7 1495.2,1042.0 1497.9,1043.1 1504.0,1042.5 1506.6,1041.3 1509.2,1041.7 1511.8,1040.8 1513.6,1042.5 1514.5,1032.9 1517.1,1027.7 1519.7,1026.8 1521.4,1020.7 1522.3,1015.5 1527.6,1014.9 1530.2,1008.5 1532.8,1001.5 1534.5,992.8 1535.4,988.4 1538.0,986.1 1542.4,985.4 1545.0,983.1 1546.8,971.8 1548.5,961.3 1550.3,954.3 1555.5,953.4 1560.4,952.6 1562.5,951.7 1563.4,940.3 1564.6,929.9 1565.6,919.4 1566.3,913.3 1569.0,912.4 1570.3,903.7 1571.6,893.2 1573.0,882.7 1574.7,875.7 1578.2,874.3 1582.1,873.6 1583.1,867.0 1585.9,853.9 1586.7,838.2 1587.9,824.2 1589.3,816.3 1590.6,809.3 1593.7,805.0 1596.3,800.6 1597.2,792.8 1598.1,784.9 1599.3,776.2 1600.3,769.2 1601.6,761.7 1605.1,761.0 1606.8,761.7 1610.3,760.4 1611.2,745.6 1612.1,743.0 1615.5,742.6 1616.4,735.1 1617.3,731.3 1621.7,730.2 1622.5,729.0 1624.8,728.6 1625.2,712.4 1626.0,691.4 1627.2,676.6 1628.2,668.6 1629.4,658.2 1631.7,652.6 1635.2,652.9 1637.8,653.8 1641.3,653.3 1642.2,656.4 1643.9,661.7 1645.7,659.9 1646.9,652.9 1647.9,648.0 1651.8,648.6 1655.3,648.0 1657.9,649.1 1659.7,644.2 1660.5,633.7 1661.4,616.2 1662.3,597.0 1663.1,594.4 1668.4,593.9 1671.0,592.7 1672.4,593.5 1673.6,598.8 1674.8,605.8 1675.9,618.0 1676.8,619.7 1678.0,609.3 1679.2,598.8 1680.3,589.2 1685.3,588.6 1686.4,583.1 1687.6,574.3 1688.8,563.8 1690.2,557.7 1693.7,556.9 1698.1,556.9 1700.7,557.7 1701.6,563.8 1702.8,566.5 1705.9,566.5 1707.2,562.1 1708.2,557.2 1712.9,556.9 1714.7,557.7 1716.4,555.5 1721.7,554.8 1724.3,553.4 1725.7,554.2 1726.9,556.9 1728.3,560.3 1729.2,563.0 1733.5,563.3 1734.2,576.1 1735.3,570.8 1736.0,552.5 1737.0,551.1 1746.1,551.1 1747.0,552.5 1747.3,568.2 1748.7,569.1 1751.4,570.8 1756.6,571.2 1757.5,578.7 1761.5,579.2 1762.2,582.2 1766.6,582.5 1767.4,588.3 1768.8,583.1 1770.2,579.6 1772.3,579.9 1779.7,580.3 1780.2,598.8 1781.0,610.1 1781.9,595.3 1782.8,593.9 1789.8,593.5 1791.5,593.2 1792.8,598.8 1794.1,604.0 1795.4,612.8 1796.4,619.7 1797.6,626.7 1799.4,632.0 1800.6,639.0 1801.7,645.9 1802.5,661.7 1803.4,668.6 1804.6,679.1 1805.7,684.8 1809.7,684.8 1810.4,674.2 1819.1,673.9 1819.8,657.3 1823.0,656.4 1824.7,656.8 1825.6,644.2 1826.5,638.1 1828.2,632.8 1830.8,633.4 1838.7,633.7 1841.3,632.3 1843.1,633.7 1844.8,637.2 1846.0,643.3 1848.3,643.8 1852.7,643.3 1854.1,647.7 1855.3,652.9 1856.2,663.4 1857.6,673.9 1858.6,675.7 1861.2,678.3 1863.0,682.7 1863.8,691.8 1869.1,692.3 1869.6,697.6 1871.7,698.4 1874.3,701.9 1878.7,702.3 1879.6,715.9 1880.1,725.5 1883.1,726.4 1888.8,726.9 1889.5,736.9 1890.6,747.3 1891.8,748.2 1896.7,748.2 1897.6,754.3 1901.4,754.7 1903.1,757.8 1904.9,761.3 1906.6,764.8 1908.4,769.2 1909.6,778.6 1910.5,784.7 1914.8,785.2 1915.7,794.3 1919.2,795.2 1922.7,795.7 1929.7,795.7 1930.6,804.8 1934.1,805.3 1934.9,808.3 1935.8,820.5 1937.6,821.4 1940.2,822.3 1944.5,822.3 1945.8,831.9 1949.8,832.4 1951.0,838.0 1951.9,841.5 1954.5,841.8 1956.2,844.1 1957.3,848.5 1958.2,853.7 1959.0,859.8 1959.9,865.9 1960.8,872.1 1961.5,878.2 1962.5,883.4 1963.4,889.5 1964.6,891.3 1976.0,891.3 1976.3,897.6 1977.5,905.4 1978.9,911.5 1980.3,915.0 1982.1,914.1 1984.1,913.3 1985.9,915.0 1987.6,917.6 1989.4,920.8 1991.1,925.5 1992.9,929.9 1994.3,935.1 1995.5,940.3 1996.7,944.2 1999.9,944.2 2002.5,943.8 2004.8,942.1 2006.0,943.5 2007.7,946.5 2009.5,950.8 2011.2,951.7 2013.0,950.5 2014.7,949.4 2016.5,951.7 2018.2,954.7 2021.7,955.2 2024.3,955.5 2025.2,961.3 2026.1,968.3 2027.8,970.0 2031.3,969.7 2032.2,974.4 2033.9,977.0 2036.6,979.7 2039.2,980.9 2041.8,982.3 2043.5,983.1 2044.4,986.6 2046.7,987.2 2047.9,991.0 2049.7,994.8 2052.3,994.5 2054.0,994.8 2055.4,998.0 2057.2,1000.6 2059.3,1003.6 2061.9,1005.9 2064.5,1008.1 2067.1,1008.8 2069.7,1008.5 2071.1,1012.0 2073.2,1013.7 2075.3,1014.6 2077.6,1016.3 2080.2,1017.2 2083.7,1018.6 2086.3,1020.3 2089.0,1020.3 2091.6,1019.3 2094.2,1021.0 2097.7,1022.1 2100.3,1022.4 2102.9,1023.3 2105.5,1024.5 2108.2,1025.6 2111.7,1025.6 2114.3,1026.8 2116.9,1029.1 2119.5,1030.3 2122.1,1032.9 2124.8,1034.3 2127.4,1035.0 2130.0,1035.5 2132.6,1035.2 2134.4,1037.8 2137.0,1038.5 2139.6,1039.6 2142.2,1039.9 2144.8,1039.6 2147.5,1039.0 2149.2,1040.3 2151.8,1041.3 2154.5,1041.7 2157.1,1041.3 2160.6,1041.3 2164.1,1041.1 2167.6,1041.3 2171.0,1041.7 2174.5,1042.5 2178.0,1043.1 2207.9,1043.1 2207.9,1052.7 2178.0,1052.7 2174.5,1052.1 2171.0,1051.8 2167.6,1050.7 2162.3,1050.7 2157.1,1051.3 2151.8,1051.8 2148.3,1050.7 2144.8,1050.0 2139.6,1049.5 2135.2,1049.5 2132.6,1046.6 2129.1,1044.8 2125.6,1043.1 2122.1,1041.7 2118.6,1040.8 2116.0,1039.9 2114.3,1037.3 2111.7,1035.5 2108.2,1034.7 2104.7,1033.8 2102.1,1034.7 2100.3,1032.9 2097.7,1031.2 2094.2,1030.8 2090.7,1030.3 2087.2,1029.1 2084.6,1028.6 2082.0,1029.8 2079.3,1027.7 2076.7,1025.9 2074.1,1025.1 2072.4,1022.4 2069.7,1022.8 2068.0,1021.6 2066.2,1018.1 2063.6,1015.8 2061.0,1014.6 2058.4,1015.1 2055.8,1012.0 2053.1,1009.3 2050.5,1005.9 2048.8,1003.2 2046.7,1000.6 2044.4,998.0 2041.8,998.3 2039.7,996.2 2038.3,991.0 2035.7,990.1 2033.1,988.9 2030.4,986.1 2027.8,984.0 2025.7,981.4 2024.3,978.8 2022.6,974.9 2020.0,974.4 2018.2,970.0 2016.5,965.7 2013.8,964.8 2011.2,964.5 2009.5,962.2 2007.7,960.4 2005.1,958.7 2001.6,958.7 1999.9,956.1 1998.1,955.2 1996.0,956.1 1993.8,956.4 1991.5,954.3 1989.4,950.8 1987.6,947.3 1986.2,942.1 1985.0,936.9 1983.3,931.6 1981.5,927.2 1979.8,924.3 1976.3,924.6 1973.3,924.3 1971.9,918.5 1970.5,912.4 1969.3,908.9 1966.7,909.8 1964.1,910.7 1962.3,908.9 1960.6,904.5 1958.8,900.2 1957.6,897.0 1956.2,896.3 1954.8,894.1 1953.6,890.4 1952.4,881.7 1951.5,874.7 1950.7,865.9 1949.4,860.7 1948.6,853.7 1947.5,848.5 1946.3,845.0 1943.1,844.6 1941.9,841.1 1934.9,840.6 1932.3,842.4 1930.6,842.4 1929.7,839.7 1927.6,838.0 1926.7,829.3 1926.7,819.8 1922.4,819.3 1921.5,814.6 1918.0,814.1 1916.2,812.0 1912.4,811.6 1911.0,805.0 1909.8,799.7 1907.5,799.2 1906.3,797.1 1902.8,796.6 1901.7,792.8 1900.5,785.8 1899.7,775.3 1898.8,776.7 1889.2,776.7 1888.3,764.8 1887.1,757.8 1884.8,756.9 1882.7,754.3 1881.3,749.1 1879.6,745.2 1876.9,743.8 1874.3,742.1 1871.4,741.2 1870.8,728.1 1870.0,716.8 1866.5,716.2 1861.2,715.5 1860.3,708.6 1856.3,708.0 1855.6,705.4 1854.6,692.3 1853.4,686.2 1851.6,683.6 1849.9,679.2 1848.3,672.1 1847.4,665.2 1846.6,661.3 1843.9,661.7 1842.2,662.5 1840.4,660.8 1839.6,657.8 1834.3,658.2 1833.4,665.2 1832.6,673.0 1830.0,673.5 1828.4,677.5 1827.7,682.4 1825.4,682.7 1824.2,686.2 1823.1,696.7 1822.4,704.5 1817.9,704.5 1817.2,707.2 1814.1,708.0 1810.9,708.9 1810.2,722.9 1809.7,729.9 1800.4,729.9 1799.7,719.4 1798.7,705.4 1797.5,694.1 1795.7,687.9 1794.5,675.7 1793.3,665.2 1792.4,654.7 1791.2,647.7 1790.7,637.2 1789.8,637.2 1788.9,651.2 1787.2,658.2 1786.3,664.3 1784.5,663.8 1777.2,663.4 1776.3,647.7 1775.8,630.7 1772.3,630.2 1772.0,622.9 1770.6,622.4 1769.7,623.2 1769.2,630.2 1767.9,631.6 1766.2,630.6 1759.2,630.6 1758.7,612.8 1758.0,602.3 1757.1,593.5 1754.8,592.7 1754.0,590.6 1751.4,590.0 1749.6,590.9 1748.7,593.9 1744.0,594.4 1743.5,600.5 1736.5,600.9 1735.3,604.9 1734.2,604.0 1731.3,604.5 1721.3,604.5 1720.4,591.8 1719.9,577.8 1719.0,576.1 1716.4,577.5 1712.9,577.8 1712.1,580.4 1711.2,592.7 1710.3,605.8 1709.1,611.0 1708.2,618.0 1706.8,624.1 1704.2,626.7 1701.6,625.9 1699.0,624.6 1696.0,624.1 1695.1,605.8 1694.2,600.5 1693.7,611.0 1692.8,619.4 1687.2,619.7 1686.4,621.5 1685.5,630.2 1684.6,637.2 1683.6,643.3 1682.9,648.6 1678.0,648.2 1673.6,648.6 1672.8,643.3 1670.1,642.8 1668.9,646.8 1667.9,652.9 1666.1,658.2 1664.0,662.5 1662.6,667.2 1660.5,668.6 1655.3,668.3 1651.8,670.0 1648.6,670.7 1647.4,673.0 1644.8,673.5 1640.4,673.0 1637.8,675.3 1636.5,688.8 1635.6,691.4 1634.8,710.7 1634.2,726.4 1632.1,729.5 1629.9,730.7 1628.6,744.2 1625.5,744.7 1624.3,749.1 1623.4,764.5 1619.9,764.8 1619.0,779.3 1612.1,779.8 1608.6,780.5 1607.7,785.8 1606.8,794.5 1605.6,803.2 1603.3,808.5 1600.3,812.0 1599.0,817.2 1597.7,824.2 1596.3,836.4 1595.5,853.9 1591.7,872.2 1590.4,882.4 1583.4,882.7 1582.1,884.5 1580.5,896.7 1579.1,907.2 1578.2,916.8 1575.2,918.5 1574.7,928.1 1573.3,943.8 1571.6,954.3 1570.3,963.1 1569.0,968.3 1567.7,975.3 1557.6,975.6 1556.4,975.3 1555.5,984.4 1553.8,985.4 1552.9,988.4 1551.1,994.5 1550.3,1001.1 1542.4,1001.5 1540.7,1003.2 1538.0,1012.0 1536.3,1015.5 1535.4,1024.2 1534.5,1030.8 1530.2,1031.2 1529.3,1034.1 1523.2,1034.7 1522.3,1047.2 1518.8,1047.8 1517.9,1051.3 1514.5,1051.8 1513.6,1050.7 1506.6,1051.3 1504.8,1052.7 1497.0,1052.7 1492.6,1051.8 1490.9,1052.7 1265.0,1052.7Z" fill="#0000ff"/>
</g>
<defs><filter id="bin" x="-5%" y="-5%" width="110%" height="110%" color-interpolation-filters="sRGB"><feComponentTransfer><feFuncA type="discrete" tableValues="0 1 1"/></feComponentTransfer></filter></defs>
<g fill="#000" filter="url(#bin)">
<text transform="translate(305.0,86.6) scale(1,1.01)" font-size="56.7">Maahaihdunta, 39 004 Säläisjärvi koko alue 24 km²</text>
<text transform="translate(240.0,1059.5) scale(1,1.03)" font-size="56.5" text-anchor="end">0.0</text>
<text transform="translate(240.0,974.6) scale(1,1.03)" font-size="56.5" text-anchor="end">0.5</text>
<text transform="translate(240.0,889.7) scale(1,1.03)" font-size="56.5" text-anchor="end">1.0</text>
<text transform="translate(240.0,804.8) scale(1,1.03)" font-size="56.5" text-anchor="end">1.5</text>
<text transform="translate(240.0,719.9) scale(1,1.03)" font-size="56.5" text-anchor="end">2.0</text>
<text transform="translate(240.0,635.0) scale(1,1.03)" font-size="56.5" text-anchor="end">2.5</text>
<text transform="translate(240.0,550.1) scale(1,1.03)" font-size="56.5" text-anchor="end">3.0</text>
<text transform="translate(240.0,465.2) scale(1,1.03)" font-size="56.5" text-anchor="end">3.5</text>
<text transform="translate(240.0,380.3) scale(1,1.03)" font-size="56.5" text-anchor="end">4.0</text>
<text transform="translate(240.0,295.4) scale(1,1.03)" font-size="56.5" text-anchor="end">4.5</text>
<text transform="translate(240.0,210.5) scale(1,1.03)" font-size="56.5" text-anchor="end">5.0</text>
<text transform="translate(240.0,125.6) scale(1,1.03)" font-size="56.5" text-anchor="end">5.5</text>
<text transform="translate(100,958.5) rotate(-90) scale(1,1.01)" font-size="49.5" xml:space="preserve">Maahaihdunta / Evaporation   mm/d</text>
<text x="317.4" y="1120.5" font-size="35.4">XII</text>
<text x="406.4" y="1120.5" font-size="35.4">I</text>
<text x="475.3" y="1120.5" font-size="35.4">II</text>
<text x="546.7" y="1120.5" font-size="35.4">III</text>
<text x="625.6" y="1120.5" font-size="35.4">IV</text>
<text x="712.1" y="1120.5" font-size="35.4">V</text>
<text x="781.0" y="1120.5" font-size="35.4">VI</text>
<text x="857.5" y="1120.5" font-size="35.4">VII</text>
<text x="926.4" y="1120.5" font-size="35.4">VIII</text>
<text x="1015.4" y="1120.5" font-size="35.4">IX</text>
<text x="1101.8" y="1120.5" font-size="35.4">X</text>
<text x="1170.8" y="1120.5" font-size="35.4">XI</text>
<text x="1247.2" y="1120.5" font-size="35.4">XII</text>
<text x="1336.2" y="1120.5" font-size="35.4">I</text>
<text x="1405.2" y="1120.5" font-size="35.4">II</text>
<text x="1476.5" y="1120.5" font-size="35.4">III</text>
<text x="1555.5" y="1120.5" font-size="35.4">IV</text>
<text x="1641.9" y="1120.5" font-size="35.4">V</text>
<text x="1710.9" y="1120.5" font-size="35.4">VI</text>
<text x="1787.3" y="1120.5" font-size="35.4">VII</text>
<text x="1856.3" y="1120.5" font-size="35.4">VIII</text>
<text x="1945.3" y="1120.5" font-size="35.4">IX</text>
<text x="2031.7" y="1120.5" font-size="35.4">X</text>
<text x="2100.7" y="1120.5" font-size="35.4">XI</text>
<text x="2177.1" y="1120.5" font-size="35.4">XII</text>
<text x="386.2" y="1165.0" font-size="35.4">2025</text>
<text x="1316.0" y="1165.0" font-size="35.4">2026</text>
<text x="2223.0" y="84.6" font-size="35.4">Simuloitu historia ja</text>
<text x="2223.0" y="127.0" font-size="35.4">keskiennuste</text>
<text x="2223.0" y="201.0" font-size="35.4">Ennusteen vaihteluväli</text>
<text x="2223.0" y="275.0" font-size="35.4">Ennusteen alku</text>
<text x="2224.6" y="1140.0" font-size="35.45">18-Dec-2025 15:26 WSFS-O</text>
</g>
<g shape-rendering="crispEdges">
<rect x="2223" y="139" width="318" height="10" fill="#0000ff"/>
<rect x="2223" y="211" width="318" height="13" fill="#ffff00"/>
<line x1="2223" x2="2541" y1="292" y2="292" stroke="#00ffff" stroke-width="10" stroke-dasharray="15 13.37"/>
</g>
</svg></body></html>
